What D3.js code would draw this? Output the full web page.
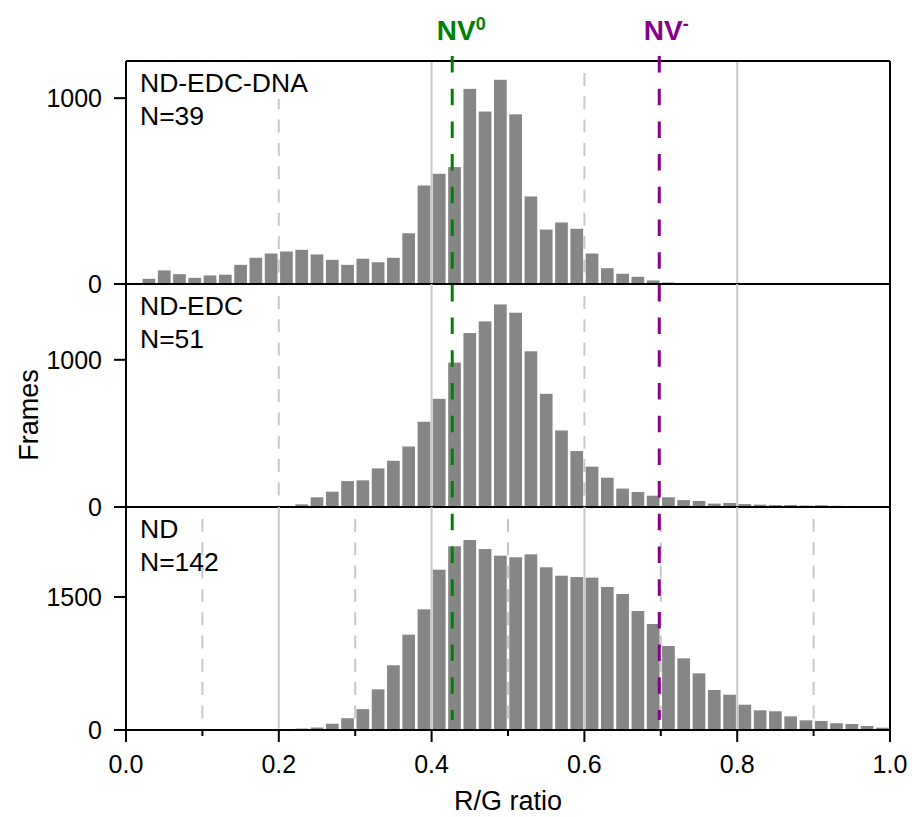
<!DOCTYPE html>
<html>
<head>
<meta charset="utf-8">
<script src="https://cdn.jsdelivr.net/npm/d3@7"></script>
<style>
    body { margin: 0; background: #fff; }
    svg text { font-family: "Liberation Sans", Arial, sans-serif; fill: #000; }
</style>
</head>
<body>
<svg id="chart" width="912" height="817"></svg>
<script>
// histogram bins, 0.02 wide
var binStarts = d3.range(50).map(function(i){ return i / 50; });
var binWidth = 0.02;

var dnaCounts = [0, 28, 73, 53, 33, 46, 50, 103, 141, 164,
    175, 184, 159, 130, 103, 136, 117, 141, 273, 530,
    593, 629, 1050, 928, 1099, 913, 471, 293, 331, 297,
    164, 85, 55, 39, 19, 8, 0, 0, 0, 0,
    0, 0, 0, 0, 0, 0, 0, 0, 0, 0];
var edcCounts = [0, 0, 0, 0, 0, 0, 0, 0, 0, 0,
    3, 18, 66, 104, 176, 181, 262, 314, 411, 579,
    735, 981, 1182, 1261, 1376, 1320, 1058, 769, 520, 380,
    274, 199, 125, 102, 77, 66, 47, 41, 23, 27,
    20, 16, 13, 13, 10, 12, 8, 7, 5, 5];
var ndCounts = [0, 0, 0, 0, 0, 0, 0, 0, 0, 0,
    10, 16, 28, 71, 133, 235, 459, 730, 1075, 1361,
    1808, 2072, 2143, 2041, 1966, 1948, 1981, 1835, 1740, 1725,
    1718, 1613, 1534, 1342, 1195, 947, 808, 639, 451, 398,
    285, 222, 211, 154, 109, 102, 76, 68, 45, 26];

var panelNames = ["ND-EDC-DNA", "ND-EDC", "ND"];
var panelN = ["N=39", "N=51", "N=142"];
var panelMax = [1200, 1515, 2515];
var panelYTicks = [[0, 1000], [0, 1000], [0, 1500]];
var panelSolidGrid = [[0.4, 0.8], [0.4, 0.8], [0.2, 0.4, 0.6, 0.8]];
var panelDashGrid = [[0.2, 0.6], [0.2, 0.6], [0.1, 0.3, 0.5, 0.7, 0.9]];

var xMajorTicks = [0, 0.2, 0.4, 0.6, 0.8, 1.0];
var xMinorTicks = [0.1, 0.3, 0.5, 0.7, 0.9];

var markerNames = ["NV", "NV"];
var markerSups = ["0", "-"];
var markerValues = [0.427, 0.698];
var markerColors = ["#008000", "#880088"];

var svg = d3.select("#chart");
var left = 126, right = 890;
var panelTop = [61, 284, 507];
var panelH = 223;
var bottom = panelTop[2] + panelH;
var gridColor = "#c8c8c8";

var x = d3.scaleLinear().domain([0, 1]).range([left, right]);

var allCounts = [dnaCounts, edcCounts, ndCounts];

allCounts.forEach(function(counts, p){
    var top = panelTop[p];
    var base = top + panelH;
    var y = d3.scaleLinear().domain([0, panelMax[p]]).range([base, top]);
    var g = svg.append("g").attr("class", "panel");

    // grid lines
    g.selectAll(".gs").data(panelSolidGrid[p]).enter().append("line")
        .attr("x1", function(d){ return x(d); })
        .attr("x2", function(d){ return x(d); })
        .attr("y1", top).attr("y2", base)
        .style("stroke", gridColor).style("stroke-width", 2);
    g.selectAll(".gd").data(panelDashGrid[p]).enter().append("line")
        .attr("x1", function(d){ return x(d); })
        .attr("x2", function(d){ return x(d); })
        .attr("y1", top + 12).attr("y2", base)
        .style("stroke", gridColor).style("stroke-width", 2)
        .style("stroke-dasharray", "13, 10.3");

    // bars
    var bins = binStarts.map(function(b, i){ return {x0: b, x1: b + binWidth, v: counts[i]}; })
        .filter(function(d){ return d.v > 0; });
    g.selectAll(".bar").data(bins).enter().append("rect")
        .attr("class", "bar")
        .attr("x", function(d){ return x(d.x0) + 1.3; })
        .attr("width", function(d){ return x(d.x1) - x(d.x0) - 2.6; })
        .attr("y", function(d){ return y(d.v); })
        .attr("height", function(d){ return base - y(d.v); })
        .style("fill", "#868686");

    // panel label
    var lab1 = g.append("text")
        .attr("x", 140).attr("y", top + 31)
        .style("font-size", "26.5px")
        .text(panelNames[p]);
    var bb = lab1.node().getBBox();
    g.insert("rect", "text")
        .attr("x", bb.x - 1).attr("y", top + 1)
        .attr("width", bb.width + 2).attr("height", bb.y + bb.height - top)
        .style("fill", "#fff");
    g.append("text")
        .attr("x", 140).attr("y", top + 64)
        .style("font-size", "26.5px")
        .text(panelN[p]);

    // y axis ticks
    g.selectAll(".yt").data(panelYTicks[p]).enter().append("line")
        .attr("x1", left - 12).attr("x2", left)
        .attr("y1", function(d){ return y(d); })
        .attr("y2", function(d){ return y(d); })
        .style("stroke", "#000").style("stroke-width", 2);
    g.selectAll(".yl").data(panelYTicks[p]).enter().append("text")
        .attr("x", left - 24)
        .attr("y", function(d){ return y(d); })
        .attr("dy", "0.35em")
        .attr("text-anchor", "end")
        .style("font-size", "25px")
        .text(function(d){ return d; });

    // panel baseline
    g.append("line")
        .attr("x1", left).attr("x2", right)
        .attr("y1", base).attr("y2", base)
        .style("stroke", "#000").style("stroke-width", 2);
});

// frame
svg.append("line").attr("x1", left).attr("x2", right).attr("y1", panelTop[0]).attr("y2", panelTop[0])
    .style("stroke", "#000").style("stroke-width", 2);
svg.append("line").attr("x1", right).attr("x2", right).attr("y1", panelTop[0]).attr("y2", bottom)
    .style("stroke", "#000").style("stroke-width", 2);
svg.append("line").attr("x1", left).attr("x2", left).attr("y1", panelTop[0]).attr("y2", bottom + 12)
    .style("stroke", "#000").style("stroke-width", 2);

// x axis
svg.selectAll(".xt").data(xMajorTicks).enter().append("line")
    .attr("x1", function(d){ return x(d); })
    .attr("x2", function(d){ return x(d); })
    .attr("y1", bottom).attr("y2", bottom + 12)
    .style("stroke", "#000").style("stroke-width", 2);
svg.selectAll(".xm").data(xMinorTicks).enter().append("line")
    .attr("x1", function(d){ return x(d); })
    .attr("x2", function(d){ return x(d); })
    .attr("y1", bottom).attr("y2", bottom + 6)
    .style("stroke", "#000").style("stroke-width", 2);
svg.selectAll(".xl").data(xMajorTicks).enter().append("text")
    .attr("x", function(d){ return x(d); })
    .attr("y", bottom + 43)
    .attr("text-anchor", "middle")
    .style("font-size", "25px")
    .text(function(d){ return d3.format(".1f")(d); });

svg.append("text")
    .attr("x", x(0.5)).attr("y", 810)
    .attr("text-anchor", "middle")
    .style("font-size", "27px")
    .text("R/G ratio");
svg.append("text")
    .attr("transform", "translate(38," + 415 + ") rotate(-90)")
    .attr("text-anchor", "middle")
    .style("font-size", "27px")
    .text("Frames");

// NV reference lines
markerValues.forEach(function(v, i){
    svg.append("line")
        .attr("x1", x(v)).attr("x2", x(v))
        .attr("y1", 56).attr("y2", 720)
        .style("stroke", markerColors[i]).style("stroke-width", 3)
        .style("stroke-dasharray", "16.5, 16.2");
    var t = svg.append("text")
        .attr("x", x(v) - 15.5).attr("y", 40)
        .style("font-size", "28px").style("font-weight", "bold")
        .style("fill", markerColors[i]);
    t.append("tspan").text(markerNames[i]);
    t.append("tspan").attr("dy", -10).style("font-size", "18px").text(markerSups[i]);
});
</script>
</body>
</html>
